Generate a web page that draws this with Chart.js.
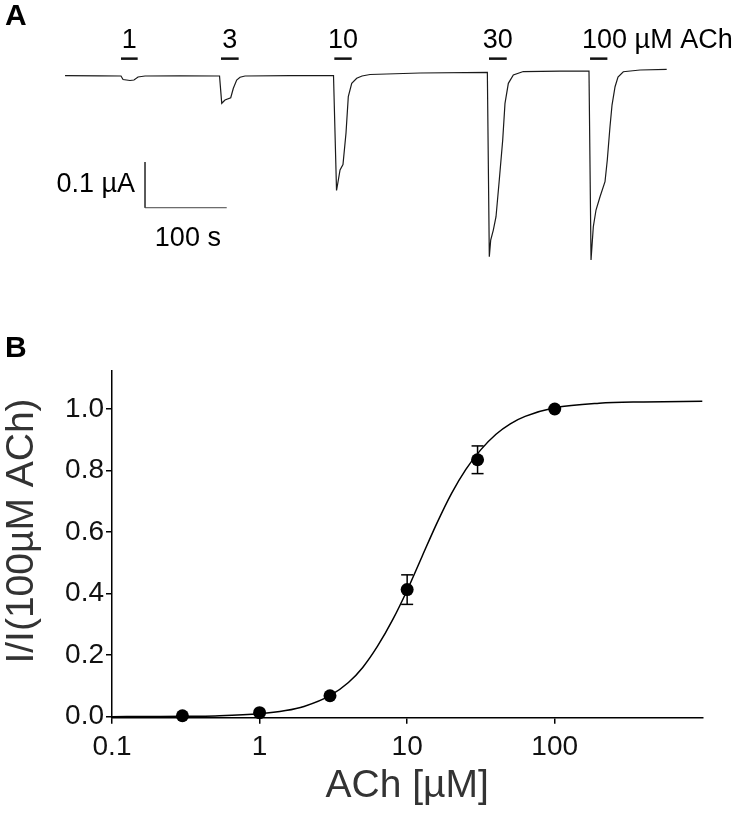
<!DOCTYPE html>
<html>
<head>
<meta charset="utf-8">
<title>ACh responses</title>
<script src="https://cdn.jsdelivr.net/npm/chart.js@4.4.1/dist/chart.umd.min.js"></script>
<style>
  html, body { margin: 0; padding: 0; background: #fff; }
  #wrap { position: relative; width: 747px; height: 814px; font-family: "Liberation Sans", Arial, sans-serif; }
  .panel { position: absolute; left: 5px; font-weight: bold; font-size: 30px; line-height: 30px; color: #000; }
  #boxA { position: absolute; left: 0; top: 0; width: 747px; height: 290px; }
  #boxB { position: absolute; left: 0; top: 300px; width: 747px; height: 514px; }
</style>
</head>
<body>
<div id="wrap">
  <div id="boxA"><canvas id="traceChart"></canvas></div>
  <div id="boxB"><canvas id="doseChart"></canvas></div>
  <div class="panel" style="top:0px">A</div>
  <div class="panel" style="top:332px">B</div>
</div>
<script>
// panel A: current trace, time in s, current in µA (0 = baseline)
const traceT = [79.6, 122.4, 148.1, 150.6, 159.1, 164.0, 168.9, 177.5, 220.3,
  268.7, 271.4, 275.4, 282.4, 285.6, 289.7, 293.8, 299.9, 355.0,
  408.2, 411.9, 413.7, 416.2, 419.8, 423.5, 426.3, 430.5, 436.6, 443.1, 452.9, 514.1,
  596.5, 598.9, 600.6, 603.8, 607.1, 611.1, 615.3, 618.1, 622.2, 628.3, 640.5, 685.4,
  720.9, 723.4, 726.2, 729.5, 734.4, 740.5, 743.3, 746.6, 749.1, 752.8, 756.4, 762.9, 783.4, 816.0];
const traceI = [0.001, 0.0004, 0, -0.0077, -0.0098, -0.0088, -0.0022, 0, 0.0004,
  0, -0.0597, -0.0525, -0.0475, -0.0269, -0.0088, -0.0028, 0, 0.001,
  0.001, -0.2505, -0.2319, -0.2057, -0.1936, -0.1247, -0.0453, -0.016, -0.005, 0, 0.0033, 0.0066,
  0.0081, -0.3954, -0.3588, -0.337, -0.3079, -0.2276, -0.14, -0.0597, -0.016, 0.0022, 0.0098, 0.0109,
  0.0109, -0.4026, -0.3297, -0.2932, -0.2641, -0.2313, -0.1838, -0.1109, -0.0635, -0.0234, -0.0022, 0.0094, 0.0131, 0.0147];

const concLabels = ["1", "3", "10", "30", "100 µM ACh"];
const barStart = [148.1, 270.5, 409.2, 598.5, 722.2];
const barEnd = [168.5, 292.1, 430.5, 620.2, 743.4];
const barLevel = 0.038;
const scaleBarT = [177.5, 277.5];    // 100 s
const scaleBarI = [-0.1882, -0.2882]; // 0.1 µA

// panel B: concentration-response
const concUM = [0.3, 1, 3, 10, 30, 100];
const relI = [0.003, 0.013, 0.068, 0.413, 0.835, 1.0];
const relSem = [0, 0, 0.004, 0.048, 0.045, 0];
const fitConc = [0.1, 0.2, 0.316, 0.5, 1, 1.5, 2, 3, 4, 5, 6.3, 8, 10, 12.6, 15.8, 20, 25, 31.6, 40, 50, 63, 100, 200, 400, 1000];
const fitRel = [0.0001, 0.0005, 0.0011, 0.0026, 0.0094, 0.0198, 0.0333, 0.0683, 0.111, 0.16, 0.229, 0.316,
  0.411, 0.52, 0.626, 0.726, 0.804, 0.868, 0.918, 0.952, 0.976, 1.004, 1.019, 1.023, 1.025];
const xTickVals = [0.1, 1, 10, 100];
const xTickLabels = ["0.1", "1", "10", "100"];
const yTickVals = [0, 0.2, 0.4, 0.6, 0.8, 1.0];
const yTickLabels = ["0.0", "0.2", "0.4", "0.6", "0.8", "1.0"];
const yTitle = "I/I(100µM ACh)";

const FONT = '"Liberation Sans", Arial, sans-serif';

// ---------- panel A ----------
const traceData = traceT.map((t, i) => ({ x: t, y: traceI[i] }));

const barSets = barStart.map((s, i) => ({
  data: [{ x: s, y: barLevel }, { x: barEnd[i], y: barLevel }],
  borderColor: "#111",
  borderWidth: 2.5,
  pointRadius: 0,
}));

const traceText = {
  id: "traceText",
  afterDatasetsDraw(chart) {
    const { ctx, scales: { x, y } } = chart;
    ctx.save();
    ctx.fillStyle = "#000";
    ctx.font = "27px " + FONT;
    ctx.textBaseline = "alphabetic";
    const yLab = y.getPixelForValue(barLevel) - 11;
    concLabels.forEach((lab, i) => {
      if (i < concLabels.length - 1) {
        ctx.textAlign = "center";
        ctx.fillText(lab, x.getPixelForValue((barStart[i] + barEnd[i]) / 2), yLab);
      } else {
        ctx.textAlign = "left";
        ctx.fillText(lab, x.getPixelForValue(barStart[i]) - 8, yLab);
      }
    });
    ctx.textBaseline = "middle";
    ctx.textAlign = "right";
    const yMid = y.getPixelForValue((scaleBarI[0] + scaleBarI[1]) / 2);
    ctx.fillText("0.1 µA", x.getPixelForValue(scaleBarT[0]) - 10, yMid);
    ctx.textAlign = "center";
    ctx.fillText("100 s", x.getPixelForValue((scaleBarT[0] + scaleBarT[1]) / 2) + 2,
      y.getPixelForValue(scaleBarI[1]) + 31);
    ctx.restore();
  },
};

new Chart(document.getElementById("traceChart"), {
  type: "line",
  data: {
    datasets: [
      {
        data: traceData,
        borderColor: "#1a1a1a",
        borderWidth: 1.2,
        pointRadius: 0,
        tension: 0,
      },
      {
        data: [
          { x: scaleBarT[0], y: scaleBarI[0] },
          { x: scaleBarT[0], y: scaleBarI[1] },
          { x: scaleBarT[1], y: scaleBarI[1] },
        ],
        borderColor: "#444",
        borderWidth: 1,
        pointRadius: 0,
      },
      ...barSets,
    ],
  },
  options: {
    responsive: true,
    maintainAspectRatio: false,
    animation: false,
    layout: { padding: 0, autoPadding: false },
    plugins: { legend: { display: false }, tooltip: { enabled: false } },
    scales: {
      x: { type: "linear", min: 0, max: 914.3, display: false },
      y: { type: "linear", min: -0.4682, max: 0.1663, display: false },
    },
  },
  plugins: [traceText],
});

// ---------- panel B ----------
const meanPts = concUM.map((c, i) => ({ x: c, y: relI[i] }));
const errSets = concUM
  .map((c, i) => ({ c, m: relI[i], e: relSem[i] }))
  .filter((p) => p.e > 0)
  .map((p) => ({
    data: [{ x: p.c, y: p.m - p.e }, { x: p.c, y: p.m + p.e }],
    borderColor: "#000",
    borderWidth: 1.5,
    pointStyle: "line",
    pointRadius: 6,
    pointBorderWidth: 1.5,
    pointBorderColor: "#000",
    clip: false,
  }));

// y title drawn by hand so it can sit a bit above the axis centre, as in the figure
const yTitlePlugin = {
  id: "yTitle",
  afterDraw(chart) {
    const { ctx } = chart;
    ctx.save();
    ctx.translate(22, 231);
    ctx.rotate(-Math.PI / 2);
    ctx.fillStyle = "#333";
    ctx.font = "39px " + FONT;
    ctx.textAlign = "center";
    ctx.textBaseline = "middle";
    ctx.fillText(yTitle, 0, 0);
    ctx.restore();
  },
};

new Chart(document.getElementById("doseChart"), {
  type: "line",
  data: {
    datasets: [
      {
        data: meanPts,
        showLine: false,
        pointRadius: 6.5,
        pointBackgroundColor: "#000",
        pointBorderColor: "#000",
        pointBorderWidth: 0,
        clip: false,
      },
      ...errSets,
      {
        data: fitConc.map((c, i) => ({ x: c, y: fitRel[i] })),
        borderColor: "#000",
        borderWidth: 1.5,
        pointRadius: 0,
        cubicInterpolationMode: "monotone",
        clip: false,
      },
    ],
  },
  options: {
    responsive: true,
    maintainAspectRatio: false,
    animation: false,
    layout: { padding: { top: 71, right: 44.7, left: 0, bottom: 0 }, autoPadding: false },
    plugins: { legend: { display: false }, tooltip: { enabled: false } },
    scales: {
      x: {
        type: "logarithmic",
        min: 0.1,
        max: 1000,
        afterBuildTicks: (s) => { s.ticks = xTickVals.map((v) => ({ value: v })); },
        afterFit: (s) => { s.height = 96.3; },
        border: { display: true, color: "#000", width: 1.5 },
        grid: { drawOnChartArea: false, drawTicks: true, tickLength: 6, color: "#000", lineWidth: 1.5 },
        ticks: {
          callback: (v, i) => xTickLabels[i],
          color: "#111",
          padding: 7,
          maxRotation: 0,
          font: { family: FONT, size: 28 },
        },
        title: {
          display: true,
          text: "ACh [µM]",
          color: "#333",
          font: { family: FONT, size: 39, lineHeight: 1.2 },
          padding: { top: 0, bottom: 4 },
        },
      },
      y: {
        type: "linear",
        min: -0.0033,
        max: 1.1235,
        afterBuildTicks: (s) => { s.ticks = yTickVals.map((v) => ({ value: v })); },
        afterFit: (s) => { s.width = 112; },
        border: { display: true, color: "#000", width: 1.5 },
        grid: { drawOnChartArea: false, drawTicks: true, tickLength: 6, color: "#000", lineWidth: 1.5 },
        ticks: {
          callback: (v, i) => yTickLabels[i],
          color: "#111",
          padding: 2,
          font: { family: FONT, size: 28 },
        },
      },
    },
  },
  plugins: [yTitlePlugin],
});
</script>
</body>
</html>
